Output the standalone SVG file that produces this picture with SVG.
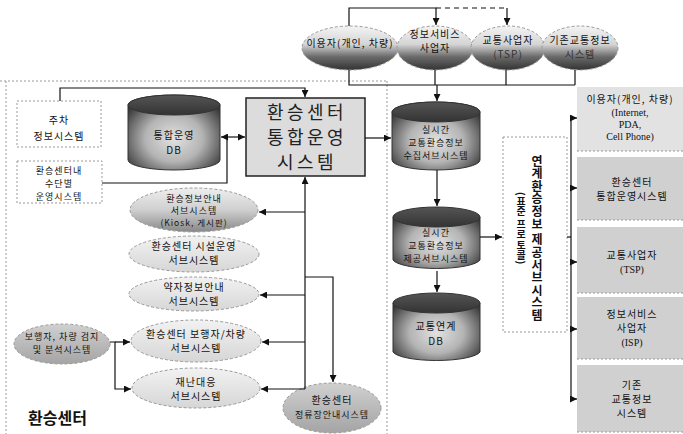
<svg xmlns="http://www.w3.org/2000/svg" width="683" height="434" viewBox="0 0 683 434">
<defs>
<style>
.t{font-family:"Noto Sans CJK KR","Noto Sans",sans-serif;font-size:10px;fill:#111;text-anchor:middle;letter-spacing:1px}
.t9{font-family:"Noto Sans CJK KR","Noto Sans",sans-serif;font-size:9px;fill:#111;text-anchor:middle;letter-spacing:1px}
.s{font-family:"Liberation Serif","Noto Sans CJK KR",serif;font-size:10px;fill:#111;text-anchor:middle}
.big{font-family:"Noto Sans CJK KR",sans-serif;font-size:18px;fill:#222;text-anchor:middle;letter-spacing:3.5px}
.ln{fill:none;stroke:#111;stroke-width:1.2}
.dot{fill:none;stroke:#999;stroke-width:1;stroke-dasharray:2 2}
.de{stroke:#999;stroke-width:1;stroke-dasharray:3 2}
</style>
<marker id="ah" viewBox="0 0 8 8" refX="8" refY="4" markerWidth="7" markerHeight="7" markerUnits="userSpaceOnUse" orient="auto-start-reverse"><path d="M0,0 L8,4 L0,8 z" fill="#111"/></marker>
<linearGradient id="gTop" x1="0" y1="0" x2="0" y2="1"><stop offset="0" stop-color="#f4f4f4"/><stop offset="0.42" stop-color="#d4d4d4"/><stop offset="0.7" stop-color="#6a6a6a"/><stop offset="1" stop-color="#333"/></linearGradient>
<linearGradient id="gLt" x1="0" y1="0" x2="0" y2="1"><stop offset="0" stop-color="#f2f2f2"/><stop offset="1" stop-color="#d6d6d6"/></linearGradient>
<linearGradient id="gMid" x1="0" y1="0" x2="0" y2="1"><stop offset="0" stop-color="#eee"/><stop offset="0.5" stop-color="#cfcfcf"/><stop offset="1" stop-color="#888"/></linearGradient>
<linearGradient id="gGr" x1="0" y1="0" x2="0" y2="1"><stop offset="0" stop-color="#d0d0d0"/><stop offset="1" stop-color="#a4a4a4"/></linearGradient>
<radialGradient id="gCyl" cx="0.5" cy="0.58" r="0.62"><stop offset="0" stop-color="#e2e2e2"/><stop offset="0.5" stop-color="#b4b4b4"/><stop offset="1" stop-color="#383838"/></radialGradient>
<linearGradient id="gCap" x1="0" y1="0" x2="0" y2="1"><stop offset="0" stop-color="#555"/><stop offset="1" stop-color="#333"/></linearGradient>
</defs>
<rect width="683" height="434" fill="#fff"/>

<g id="regions">
<path class="dot" d="M0,81 H387 M6,81 V434 M387,81 V434"/>
</g>

<g id="user"><ellipse cx="350" cy="48" rx="48" ry="22" fill="url(#gTop)" class="de"/><text class="t" x="350" y="47">이용자(개인, 차량)</text></g>
<g id="isp-top"><ellipse cx="435" cy="48" rx="38" ry="22" fill="url(#gTop)" class="de"/><text class="t" x="435" y="38">정보서비스</text><text class="t" x="435" y="52">사업자</text></g>
<g id="tsp-top"><ellipse cx="508" cy="48" rx="37" ry="22" fill="url(#gTop)" class="de"/><text class="t" x="508" y="44">교통사업자</text><text class="t" x="508" y="58" style="fill:#333">(TSP)</text></g>
<g id="legacy-top"><ellipse cx="580" cy="48" rx="38" ry="22" fill="url(#gTop)" class="de"/><text class="t" x="580" y="44">기존교통정보</text><text class="t" x="580" y="58" style="fill:#333">시스템</text></g>

<g id="parking"><rect x="17" y="101" width="84" height="46" fill="url(#gLt)" class="dot"/><text class="t" x="59" y="124">주차</text><text class="t" x="59" y="140">정보시스템</text></g>
<g id="modal"><rect x="17" y="161" width="85" height="42" fill="url(#gLt)" class="dot"/><text class="t9" x="59" y="174">환승센터내</text><text class="t9" x="59" y="187">수단별</text><text class="t9" x="59" y="200">운영시스템</text></g>

<g id="intdb"><path d="M128,105 A46,10 0 0 1 220,105 V160 A46,10 0 0 1 128,160 Z" fill="url(#gCyl)" stroke="#333"/><ellipse cx="174" cy="105" rx="46" ry="10" fill="url(#gCap)" stroke="#333"/><text class="t" x="174" y="139">통합운영</text><text class="t" x="174" y="154">DB</text></g>

<g id="system"><rect x="246" y="98" width="119" height="78" fill="#dcdcdc" stroke="#222" stroke-width="1.5"/><text class="big" x="307" y="119">환승센터</text><text class="big" x="307" y="144">통합운영</text><text class="big" x="307" y="169">시스템</text></g>

<g id="collect"><path d="M392,112 A44,10 0 0 1 480,112 V160 A44,10 0 0 1 392,160 Z" fill="url(#gCyl)" stroke="#333"/><ellipse cx="436" cy="112" rx="44" ry="10" fill="url(#gCap)" stroke="#333"/><text class="t9" x="436" y="133">실시간</text><text class="t9" x="436" y="146">교통환승정보</text><text class="t9" x="436" y="159">수집서브시스템</text></g>
<g id="provide"><path d="M393,217 A44,10 0 0 1 480,217 V260 A44,10 0 0 1 393,260 Z" fill="url(#gCyl)" stroke="#333"/><ellipse cx="436.5" cy="217" rx="43.5" ry="10" fill="url(#gCap)" stroke="#333"/><text class="t9" x="436" y="236">실시간</text><text class="t9" x="436" y="249">교통환승정보</text><text class="t9" x="436" y="262">제공서브시스템</text></g>
<g id="linkdb"><path d="M393,303 A44,10 0 0 1 480,303 V352 A44,10 0 0 1 393,352 Z" fill="url(#gCyl)" stroke="#333"/><ellipse cx="436.5" cy="303" rx="43.5" ry="10" fill="url(#gCap)" stroke="#333"/><text class="t" x="436" y="330">교통연계</text><text class="t" x="436" y="345">DB</text></g>

<g id="linkbox"><rect x="503" y="137" width="64" height="195" fill="#cacaca" class="dot"/>
<text x="537" y="155" style="writing-mode:vertical-rl;font-family:'Noto Sans CJK KR',sans-serif;font-size:12px;font-weight:bold;fill:#111;letter-spacing:0.6px">연계환승정보 제공서브시스템</text>
<text x="521" y="192" style="writing-mode:vertical-rl;font-family:'Noto Sans CJK KR',sans-serif;font-size:10px;font-weight:bold;fill:#111;letter-spacing:0.3px">(표준 프로토콜)</text></g>

<g id="r-user"><rect x="577" y="87" width="106" height="64" fill="#e2e2e2"/><line x1="577" y1="151" x2="683" y2="151" class="dot"/><text class="t" x="630" y="103">이용자(개인, 차량)</text><text class="s" x="630" y="116">(Internet,</text><text class="s" x="630" y="128">PDA,</text><text class="s" x="630" y="140">Cell Phone)</text></g>
<g id="r-center"><rect x="577" y="157" width="106" height="63" fill="#d0d0d0"/><line x1="577" y1="220" x2="683" y2="220" class="dot"/><text class="t" x="632" y="186">환승센터</text><text class="t" x="632" y="200">통합운영시스템</text></g>
<g id="r-tsp"><rect x="577" y="227" width="106" height="66" fill="#d0d0d0"/><line x1="577" y1="293" x2="683" y2="293" class="dot"/><text class="t" x="632" y="259">교통사업자</text><text class="s" x="632" y="273">(TSP)</text></g>
<g id="r-isp"><rect x="577" y="297" width="106" height="62" fill="#d0d0d0"/><line x1="577" y1="359" x2="683" y2="359" class="dot"/><text class="t" x="632" y="318">정보서비스</text><text class="t" x="632" y="332">사업자</text><text class="s" x="632" y="346">(ISP)</text></g>
<g id="r-legacy"><rect x="577" y="365" width="106" height="67" fill="#d0d0d0"/><line x1="577" y1="432" x2="683" y2="432" class="dot"/><text class="t" x="632" y="389">기존</text><text class="t" x="632" y="403">교통정보</text><text class="t" x="632" y="417">시스템</text></g>

<g id="kiosk"><ellipse cx="194" cy="210" rx="64" ry="22" fill="url(#gMid)" class="de"/><text class="t9" x="194" y="202">환승정보안내</text><text class="t9" x="194" y="214">서브시스템</text><text class="t9" x="194" y="226" style="font-size:8.5px">(Kiosk, 게시판)</text></g>
<g id="facility"><ellipse cx="194" cy="254" rx="65" ry="18" fill="url(#gLt)" class="de"/><text class="t" x="194" y="250">환승센터 시설운영</text><text class="t" x="194" y="264">서브시스템</text></g>
<g id="weak"><ellipse cx="194" cy="294" rx="65" ry="17" fill="url(#gLt)" class="de"/><text class="t" x="194" y="291">약자정보안내</text><text class="t" x="194" y="305">서브시스템</text></g>
<g id="pedveh"><ellipse cx="196" cy="341" rx="65" ry="21" fill="url(#gLt)" class="de"/><text class="t" x="196" y="338">환승센터 보행자/차량</text><text class="t" x="196" y="352">서브시스템</text></g>
<g id="disaster"><ellipse cx="196" cy="388" rx="64" ry="20" fill="url(#gLt)" class="de"/><text class="t" x="196" y="386">재난대응</text><text class="t" x="196" y="400">서브시스템</text></g>
<g id="detect"><ellipse cx="62" cy="344" rx="48" ry="20" fill="url(#gGr)" class="de"/><text class="t9" x="62" y="340">보행자, 차량 검지</text><text class="t9" x="62" y="353">및 분석시스템</text></g>
<g id="stop"><ellipse cx="332" cy="408" rx="49" ry="25" fill="url(#gGr)" class="de"/><text class="t" x="332" y="404">환승센터</text><text class="t9" x="332" y="418">정류장안내시스템</text></g>
<g id="label"><text x="28" y="424" style="font-family:'Noto Sans CJK KR',sans-serif;font-size:16px;font-weight:bold;fill:#111">환승센터</text></g>

<g id="connectors">
<path class="ln" d="M349,26 V8 H436 V25" marker-end="url(#ah)"/>
<path class="ln" d="M436,8 H507" stroke-dasharray="5 4"/>
<path class="ln" d="M507,8 V25" marker-end="url(#ah)"/>
<path class="ln" d="M349,70 V85 H575 M435,70 V85 M506,70 V85 M575,70 V85"/>
<path class="ln" d="M437,85 V101" marker-end="url(#ah)"/>
<path class="ln" d="M60,101 V88 H305 V97" marker-end="url(#ah)"/>
<path class="ln" d="M221,137 H245" marker-start="url(#ah)" marker-end="url(#ah)"/>
<path class="ln" d="M102,183 H227 V137"/>
<path class="ln" d="M365,138 H391" marker-end="url(#ah)"/>
<path class="ln" d="M437,170 V206" marker-end="url(#ah)"/>
<path class="ln" d="M437,271 V292" marker-end="url(#ah)"/>
<path class="ln" d="M480,237 H502" marker-end="url(#ah)"/>
<path class="ln" d="M567,237 H571"/>
<path class="ln" d="M571,118 V399" stroke="#444" stroke-width="1"/>
<path class="ln" d="M571,118 H577" marker-end="url(#ah)"/>
<path class="ln" d="M571,188 H577" marker-end="url(#ah)"/>
<path class="ln" d="M571,262 H577" marker-end="url(#ah)"/>
<path class="ln" d="M571,329 H577" marker-end="url(#ah)"/>
<path class="ln" d="M571,399 H577" marker-end="url(#ah)"/>
<path class="ln" d="M305,389 V177" marker-end="url(#ah)"/>
<path class="ln" d="M305,212 H259" marker-end="url(#ah)"/>
<path class="ln" d="M305,295 H260" marker-end="url(#ah)"/>
<path class="ln" d="M305,342 H262" marker-end="url(#ah)"/>
<path class="ln" d="M305,389 H261" marker-end="url(#ah)"/>
<path class="ln" d="M305,277 H333 V382" marker-end="url(#ah)"/>
<path class="ln" d="M110,342 H115 V389 H131" marker-end="url(#ah)"/>
<path class="ln" d="M115,342 H130" marker-end="url(#ah)"/>
</g>
</svg>
